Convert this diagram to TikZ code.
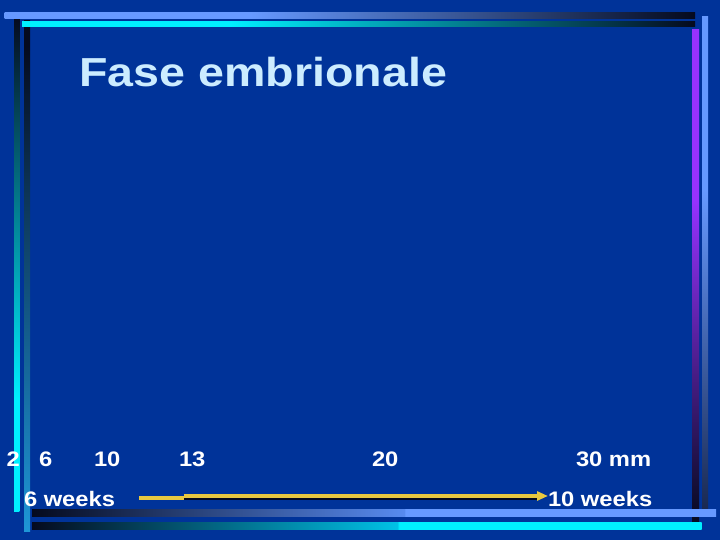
\documentclass[tikz,border=0pt]{standalone}
\usepackage{fontspec}
\setmainfont{Liberation Sans}
\usetikzlibrary{arrows.meta}
\definecolor{bg}{RGB}{0,51,153}
\definecolor{lblue}{RGB}{102,153,255}
\definecolor{lbluedim}{RGB}{87,138,239}
\definecolor{cyanbar}{RGB}{0,240,255}
\definecolor{cyandim}{RGB}{0,193,230}
\definecolor{purplebar}{RGB}{150,50,255}
\definecolor{midblue}{RGB}{30,150,215}
\definecolor{darkbar}{RGB}{5,10,30}
\definecolor{darkblue}{RGB}{25,40,80}
\definecolor{titlecol}{RGB}{204,236,255}
\definecolor{arrowyellow}{RGB}{232,200,64}
% horizontal shadings: path maps onto 25bp..75bp
\pgfdeclarehorizontalshading{topone}{100bp}{color(0bp)=(lblue); color(42.8bp)=(lblue); color(75bp)=(darkbar); color(100bp)=(darkbar)}
\pgfdeclarehorizontalshading{toptwo}{100bp}{color(0bp)=(cyanbar); color(40.5bp)=(cyanbar); color(75bp)=(darkbar); color(100bp)=(darkbar)}
\pgfdeclarehorizontalshading{botone}{100bp}{color(0bp)=(darkbar); color(25bp)=(darkbar); color(52.2bp)=(lbluedim); color(52.3bp)=(lblue); color(100bp)=(lblue)}
\pgfdeclarehorizontalshading{bottwo}{100bp}{color(0bp)=(darkbar); color(25bp)=(darkbar); color(52.3bp)=(cyandim); color(52.4bp)=(cyanbar); color(100bp)=(cyanbar)}
% vertical shadings: 0bp = bottom
\pgfdeclareverticalshading{leftone}{100bp}{color(0bp)=(cyanbar); color(36.2bp)=(cyanbar); color(75bp)=(darkbar); color(100bp)=(darkbar)}
\pgfdeclareverticalshading{lefttwo}{100bp}{color(0bp)=(midblue); color(25bp)=(midblue); color(72.6bp)=(darkbar); color(100bp)=(darkbar)}
\pgfdeclareverticalshading{rightone}{100bp}{color(0bp)=(darkbar); color(25bp)=(darkbar); color(57.7bp)=(purplebar); color(100bp)=(purplebar)}
\pgfdeclareverticalshading{righttwo}{100bp}{color(0bp)=(darkblue); color(25bp)=(darkblue); color(57.5bp)=(lblue); color(100bp)=(lblue)}
\tikzset{
  lbl/.style={anchor=base west, inner sep=0pt, outer sep=0pt, text=white,
    font=\fontsize{21}{21}\selectfont\bfseries, xscale=1.13},
  ttl/.style={anchor=base west, inner sep=0pt, outer sep=0pt, text=titlecol,
    font=\fontsize{40.5}{40.5}\selectfont\bfseries, xscale=1.15},
  yline/.style={draw=arrowyellow, line width=4pt},
}
\begin{document}
\begin{tikzpicture}[x=1pt,y=-1pt]
\useasboundingbox (0,0) rectangle (720,540);
\fill[bg] (0,0) rectangle (720,540);
% left vertical bars
\shade[shading=leftone] (14,17) rectangle (19.3,511);
\shade[shading=lefttwo] (24,21) rectangle (30,531);
% right vertical bars
\shade[shading=rightone] (692,30) rectangle (699,522);
\shade[shading=righttwo] (702,16.5) rectangle (708,512);
% top bars
\shade[shading=topone] (4.6,13) rectangle (695,19);
\shade[shading=toptwo] (22,21.3) rectangle (695,27);
% bottom bars
\shade[shading=botone] (32,509.5) rectangle (716,516.7);
\shade[shading=bottwo] (32,522.5) rectangle (701.5,529.3);
% title
\node[ttl] (title) at (79.5,87) {Fase embrionale};
% scale labels
\node[lbl] (n2) at (6.5,466.5) {2};
\node[lbl] (n6) at (39,466.5) {6};
\node[lbl] (n10) at (94,466.5) {10};
\node[lbl] (n13) at (179,466.5) {13};
\node[lbl] (n20) at (372,466.5) {20};
\node[lbl] (n30) at (576,466.5) {30 mm};
\node[lbl] (w6) at (24,506) {6 weeks};
\node[lbl] (w10) at (548,506) {10 weeks};
% arrow
\coordinate (a0) at (139,498);
\coordinate (a1) at (184,498);
\coordinate (b0) at (184,496);
\coordinate (b1) at (548,496);
\draw[yline] (a0) -- (a1);
\draw[draw=darkbar, line width=2pt] ([yshift=-2.5pt]b0) -- ([yshift=-2.5pt,xshift=-10pt]b1);
\draw[yline, -{Triangle[length=11pt,width=9pt]}] (b0) -- (b1);
\end{tikzpicture}
\end{document}
